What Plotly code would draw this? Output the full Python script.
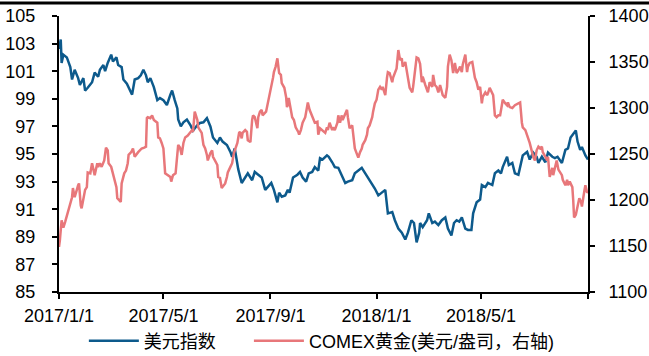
import pandas as pd
import plotly.graph_objects as go

# Day offsets from 2017-01-01 and values
usd_days = [0, 2, 3, 5, 9, 13, 15, 18, 22, 24, 28, 30, 33, 38, 41, 45, 47, 51, 53, 56,
            60, 62, 66, 68, 72, 74, 78, 80, 84, 87, 91, 94, 97, 100, 102, 105, 107, 109, 113, 116,
            120, 124, 128, 130, 133, 136, 137, 140, 143, 147, 151, 154, 159, 162, 166, 170, 174, 177, 182, 185,
            188, 193, 197, 199, 202, 206, 210, 214, 217, 222, 225, 229, 233, 237, 240, 244, 247, 251, 253, 256,
            260, 263, 265, 269, 274, 277, 280, 284, 287, 291, 294, 298, 300, 303, 308, 310, 314, 317, 321, 325,
            329, 332, 337, 340, 344, 348, 352, 355, 360, 363, 367, 371, 375, 378, 383, 386, 390, 394, 398, 401,
            405, 408, 411, 414, 415, 418, 423, 425, 429, 432, 436, 440, 444, 447, 451, 454, 457, 460, 463, 467,
            470, 474, 476, 480, 484, 486, 490, 493, 498, 501, 505, 508, 510, 515, 517, 521, 524, 528, 530, 533,
            538, 541, 545, 549, 551, 555, 559, 562, 567, 570, 573, 578, 582, 585, 588, 591, 594, 596, 599, 601,
            605, 608]
usd_index = [102.6, 103.3, 101.6, 102.2, 102.0, 101.3, 100.4, 101.1, 100.5, 100.0, 100.5, 99.6, 99.8, 100.2, 100.9, 100.6, 101.1, 101.45, 101.0, 101.6,
             102.2, 101.7, 102.0, 101.45, 101.3, 100.4, 100.1, 99.8, 99.3, 100.4, 100.5, 100.7, 101.1, 100.7, 100.2, 100.5, 100.2, 99.85, 98.9, 99.05,
             98.9, 98.55, 99.3, 99.6, 98.9, 98.3, 97.5, 97.0, 97.3, 97.5, 97.1, 96.7, 97.1, 97.25, 97.3, 97.6, 97.0, 96.2, 95.8, 96.2,
             95.9, 95.65, 95.15, 94.8, 95.4, 93.9, 92.9, 93.3, 93.6, 93.1, 93.7, 93.5, 93.3, 92.4, 92.6, 92.9, 92.4, 91.5, 92.2, 91.9,
             92.0, 92.4, 92.2, 93.3, 93.5, 93.7, 93.3, 93.0, 93.6, 93.7, 94.05, 93.8, 94.7, 94.6, 94.9, 94.8, 94.4, 94.05, 94.0, 93.5,
             92.9, 93.0, 93.1, 93.6, 93.8, 94.0, 93.6, 93.3, 92.9, 92.5, 92.0, 92.2, 92.4, 90.7, 90.8, 90.2, 89.6, 89.3, 88.8, 89.3,
             90.2, 90.0, 88.6, 89.3, 90.0, 89.7, 90.2, 90.7, 90.0, 90.1, 89.85, 90.2, 90.4, 89.6, 89.1, 90.0, 90.2, 90.1, 90.4, 89.6,
             89.5, 89.5, 90.7, 91.5, 91.7, 92.75, 92.6, 92.9, 92.75, 93.6, 93.8, 93.6, 94.05, 94.8, 94.2, 94.35, 93.6, 93.5, 94.05, 94.9,
             95.15, 94.6, 95.1, 94.8, 94.35, 94.8, 94.4, 95.1, 94.8, 94.7, 94.8, 94.35, 95.3, 95.4, 96.2, 96.5, 96.7, 95.9, 95.3, 95.5,
             94.9, 94.6]

gold_days = [0, 1, 3, 5, 7, 10, 13, 15, 16, 18, 22, 23, 25, 26, 30, 32, 33, 36, 38, 39,
             41, 44, 45, 47, 49, 52, 54, 56, 57, 60, 61, 63, 66, 67, 69, 71, 72, 75, 77, 79,
             80, 83, 85, 87, 91, 93, 95, 98, 100, 101, 102, 105, 107, 109, 113, 114, 116, 118, 120, 122,
             125, 128, 129, 131, 134, 137, 139, 141, 143, 145, 148, 151, 153, 154, 156, 159, 160, 162, 164, 166,
             168, 170, 171, 174, 176, 177, 179, 182, 183, 185, 187, 188, 191, 193, 194, 197, 199, 201, 205, 207,
             208, 210, 211, 214, 216, 217, 220, 222, 223, 225, 228, 229, 231, 233, 234, 238, 240, 243, 245, 246,
             247, 249, 251, 252, 253, 255, 256, 259, 261, 262, 263, 264, 267, 268, 270, 272, 275, 276, 278, 280,
             283, 285, 286, 288, 291, 292, 294, 297, 298, 300, 302, 305, 306, 308, 309, 311, 314, 315, 317, 320,
             321, 323, 325, 326, 329, 331, 332, 334, 337, 338, 340, 342, 344, 346, 348, 349, 352, 354, 355, 357,
             360, 361, 363, 365, 367, 369, 371, 372, 375, 377, 378, 380, 383, 384, 386, 388, 390, 392, 394, 395,
             398, 400, 401, 403, 406, 407, 409, 411, 413, 415, 417, 418, 421, 423, 424, 426, 429, 430, 432, 434,
             436, 438, 440, 441, 444, 446, 447, 449, 451, 453, 455, 457, 459, 461, 463, 464, 467, 469, 470, 472,
             475, 476, 478, 480, 482, 484, 486, 487, 490, 492, 493, 495, 498, 499, 501, 503, 505, 507, 509, 510,
             513, 515, 516, 518, 521, 524, 528, 530, 532, 533, 536, 538, 539, 541, 544, 545, 547, 549, 551, 553,
             555, 556, 559, 561, 562, 564, 567, 568, 570, 572, 574, 576, 578, 579, 582, 584, 585, 587, 590, 591,
             592, 594, 596, 598, 600, 601, 604, 605, 607, 608]
comex_gold = [1149, 1156, 1178, 1170, 1176, 1187, 1198, 1203, 1213, 1203, 1216, 1218, 1194, 1191, 1211, 1214, 1230, 1229, 1240, 1236,
              1227, 1240, 1236, 1240, 1236, 1243, 1257, 1254, 1240, 1236, 1232, 1225, 1214, 1202, 1200, 1198, 1218, 1229, 1232, 1240,
              1249, 1252, 1256, 1247, 1252, 1254, 1256, 1257, 1258, 1289, 1290, 1289, 1292, 1287, 1284, 1268, 1267, 1262, 1256, 1229,
              1227, 1225, 1220, 1227, 1229, 1260, 1257, 1249, 1262, 1268, 1270, 1273, 1276, 1274, 1296, 1287, 1279, 1276, 1273, 1260,
              1256, 1249, 1243, 1251, 1254, 1247, 1243, 1238, 1225, 1224, 1213, 1214, 1218, 1225, 1230, 1236, 1240, 1251, 1262, 1273,
              1274, 1267, 1273, 1276, 1274, 1265, 1263, 1287, 1292, 1290, 1278, 1290, 1296, 1298, 1292, 1296, 1305, 1316, 1327, 1333,
              1339, 1345, 1354, 1343, 1338, 1336, 1327, 1322, 1312, 1301, 1303, 1311, 1294, 1290, 1287, 1279, 1274, 1271, 1276, 1284,
              1290, 1300, 1306, 1298, 1290, 1287, 1284, 1285, 1271, 1278, 1276, 1273, 1273, 1279, 1276, 1284, 1276, 1279, 1276, 1284,
              1292, 1284, 1292, 1287, 1294, 1298, 1290, 1278, 1281, 1273, 1256, 1251, 1246, 1252, 1256, 1260, 1265, 1271, 1278, 1281,
              1290, 1296, 1305, 1309, 1320, 1323, 1320, 1323, 1314, 1333, 1339, 1338, 1328, 1333, 1338, 1343, 1363, 1352, 1354, 1345,
              1350, 1336, 1333, 1322, 1317, 1323, 1338, 1355, 1354, 1348, 1328, 1334, 1325, 1320, 1317, 1328, 1323, 1336, 1325, 1323,
              1317, 1325, 1317, 1314, 1311, 1323, 1345, 1358, 1352, 1338, 1349, 1338, 1341, 1345, 1339, 1347, 1358, 1339, 1345, 1349,
              1350, 1344, 1333, 1328, 1320, 1323, 1305, 1312, 1317, 1314, 1316, 1322, 1317, 1314, 1292, 1290, 1292, 1292, 1303, 1309,
              1305, 1303, 1306, 1301, 1300, 1303, 1305, 1306, 1284, 1279, 1276, 1271, 1268, 1262, 1251, 1247, 1243, 1254, 1258, 1256,
              1258, 1252, 1247, 1243, 1247, 1225, 1235, 1227, 1235, 1243, 1233, 1230, 1227, 1222, 1216, 1222, 1216, 1220, 1214, 1200,
              1181, 1184, 1193, 1202, 1198, 1193, 1211, 1216, 1208, 1209]

x_tickvals = ["2017-01-01", "2017-05-01", "2017-09-01", "2018-01-01", "2018-05-01", "2018-09-01"]
x_ticktext = ["2017/1/1", "2017/5/1", "2017/9/1", "2018/1/1", "2018/5/1", ""]

base = pd.Timestamp("2017-01-01")
usd_dates = base + pd.to_timedelta(usd_days, unit="D")
gold_dates = base + pd.to_timedelta(gold_days, unit="D")

FONT = "Arial, 'Liberation Sans', 'Noto Sans CJK SC', sans-serif"
BLUE = "#0D5A8C"
RED = "#E8777A"

fig = go.Figure()
fig.add_trace(go.Scatter(x=usd_dates, y=usd_index, name="美元指数", mode="lines",
                         line=dict(color=BLUE, width=2.5), yaxis="y", legend="legend"))
fig.add_trace(go.Scatter(x=gold_dates, y=comex_gold, name="COMEX黄金(美元/盎司，右轴)", mode="lines",
                         line=dict(color=RED, width=2.5), yaxis="y2", legend="legend2"))

axis_common = dict(showline=True, linecolor="black", linewidth=2, ticks="outside",
                   ticklen=5, tickwidth=2, tickcolor="black", showgrid=False, zeroline=False,
                   automargin=False,
                   tickfont=dict(family=FONT, size=18, color="black"))

legend_common = dict(orientation="h", xanchor="left", y=-0.178, yanchor="middle",
                     font=dict(family=FONT, size=18), itemwidth=50, bgcolor="rgba(0,0,0,0)")

fig.update_layout(
    width=649, height=356,
    margin=dict(l=59, r=61, t=16, b=64, autoexpand=False),
    paper_bgcolor="white", plot_bgcolor="white",
    font=dict(family=FONT, size=18, color="black"),
    xaxis=dict(type="date", range=["2017-01-01", "2018-09-01"], tickvals=x_tickvals,
               ticktext=x_ticktext, ticklabelstandoff=1, **axis_common),
    yaxis=dict(range=[85, 105], dtick=2, tick0=85, ticklabelstandoff=13, **axis_common),
    yaxis2=dict(range=[1100, 1400], dtick=50, tick0=1100, overlaying="y", side="right",
                ticklabelstandoff=10, **axis_common),
    legend=dict(x=0.047, **legend_common),
    legend2=dict(x=0.359, **legend_common),
    showlegend=True,
    shapes=[dict(type="line", xref="paper", yref="paper", x0=-0.2, x1=1.2,
                 y0=(292 - 3) / 276, y1=(292 - 3) / 276, line=dict(color="black", width=3))],
)

fig.write_html("out.html")
